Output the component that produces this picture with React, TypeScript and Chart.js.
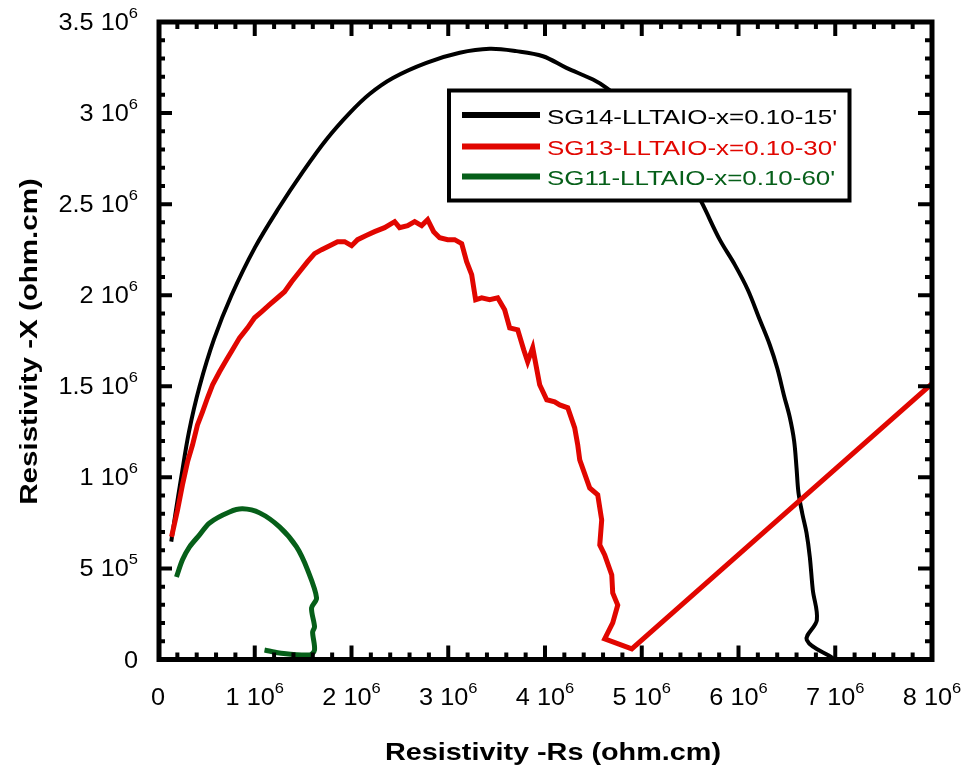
import React, { useEffect, useRef } from 'react';
import { Chart, registerables } from 'chart.js';

Chart.register(...registerables);

// All values in units of 10^6 ohm.cm
const blackX = [0.137, 0.18, 0.24, 0.32, 0.43, 0.58, 0.76, 1.0, 1.25, 1.5, 1.739, 1.98, 2.187, 2.428, 2.774, 3.118, 3.428, 3.704, 3.979, 4.221, 4.496, 4.635, 4.979, 5.289, 5.496, 5.631, 5.806, 5.961, 6.096, 6.220, 6.323, 6.40, 6.47, 6.53, 6.575, 6.60, 6.62, 6.66, 6.703, 6.737, 6.768, 6.810, 6.706, 6.975];
const blackY = [0.647, 0.80, 1.0, 1.25, 1.5, 1.76, 2.0, 2.26, 2.48, 2.68, 2.854, 3.0, 3.105, 3.193, 3.276, 3.331, 3.353, 3.340, 3.312, 3.248, 3.184, 3.138, 2.992, 2.800, 2.635, 2.497, 2.305, 2.168, 2.030, 1.865, 1.728, 1.60, 1.45, 1.33, 1.20, 1.05, 0.915, 0.80, 0.695, 0.563, 0.382, 0.217, 0.107, 0.008];

const redX = [0.140, 0.202, 0.253, 0.305, 0.357, 0.408, 0.460, 0.512, 0.564, 0.636, 0.708, 0.770, 0.843, 0.926, 0.998, 1.070, 1.153, 1.236, 1.308, 1.381, 1.463, 1.546, 1.618, 1.691, 1.774, 1.856, 1.929, 2.001, 2.063, 2.146, 2.239, 2.342, 2.446, 2.497, 2.580, 2.653, 2.725, 2.787, 2.849, 2.911, 2.994, 3.066, 3.139, 3.190, 3.242, 3.283, 3.345, 3.428, 3.511, 3.583, 3.635, 3.718, 3.780, 3.821, 3.873, 3.945, 4.018, 4.100, 4.152, 4.235, 4.307, 4.338, 4.359, 4.462, 4.545, 4.586, 4.566, 4.617, 4.690, 4.700, 4.752, 4.700, 4.617, 4.897, 8.000];
const redY = [0.673, 0.821, 0.959, 1.085, 1.179, 1.288, 1.360, 1.437, 1.508, 1.580, 1.646, 1.701, 1.766, 1.821, 1.876, 1.909, 1.948, 1.986, 2.019, 2.074, 2.129, 2.184, 2.228, 2.250, 2.272, 2.294, 2.294, 2.272, 2.305, 2.327, 2.349, 2.371, 2.404, 2.371, 2.382, 2.404, 2.382, 2.415, 2.349, 2.316, 2.305, 2.305, 2.283, 2.184, 2.113, 1.975, 1.986, 1.975, 1.986, 1.920, 1.821, 1.810, 1.701, 1.635, 1.712, 1.508, 1.426, 1.415, 1.398, 1.382, 1.272, 1.179, 1.096, 0.942, 0.904, 0.766, 0.629, 0.574, 0.464, 0.365, 0.299, 0.201, 0.113, 0.058, 1.514];

const greenX = [0.191, 0.253, 0.326, 0.429, 0.533, 0.739, 0.874, 1.050, 1.256, 1.432, 1.546, 1.639, 1.587, 1.618, 1.598, 1.618, 1.567, 1.256, 1.101];
const greenY = [0.453, 0.547, 0.618, 0.684, 0.750, 0.810, 0.827, 0.805, 0.728, 0.618, 0.492, 0.338, 0.283, 0.179, 0.151, 0.052, 0.025, 0.036, 0.052];

const seriesLabels = ["SG14-LLTAIO-x=0.10-15'", "SG13-LLTAIO-x=0.10-30'", "SG11-LLTAIO-x=0.10-60'"];
const seriesColors = ['#000000', '#e10600', '#065f19'];

const xTickValues = [0, 1, 2, 3, 4, 5, 6, 7, 8];
const xTickLabels = ['0', '1 10^6', '2 10^6', '3 10^6', '4 10^6', '5 10^6', '6 10^6', '7 10^6', '8 10^6'];
const yTickValues = [0, 0.5, 1, 1.5, 2, 2.5, 3, 3.5];
const yTickLabels = ['0', '5 10^5', '1 10^6', '1.5 10^6', '2 10^6', '2.5 10^6', '3 10^6', '3.5 10^6'];

const xTitle = 'Resistivity -Rs (ohm.cm)';
const yTitle = 'Resistivity -X (ohm.cm)';

const FONT = '"Liberation Sans", Arial, Helvetica, sans-serif';
const SX = 1.1;

function toPoints(xs: number[], ys: number[]) {
  return xs.map((x, i) => ({ x: x * 1e6, y: ys[i] * 1e6 }));
}

function textWidth(ctx: CanvasRenderingContext2D, text: string, font: string, sx: number) {
  ctx.save();
  ctx.font = font;
  const w = ctx.measureText(text).width * sx;
  ctx.restore();
  return w;
}

function drawText(ctx: CanvasRenderingContext2D, text: string, x: number, y: number, font: string, sx: number, color = '#000') {
  ctx.save();
  ctx.font = font;
  ctx.fillStyle = color;
  ctx.textAlign = 'left';
  ctx.textBaseline = 'alphabetic';
  ctx.translate(x, y);
  ctx.scale(sx, 1);
  ctx.fillText(text, 0, 0);
  ctx.restore();
}

function drawExpLabel(ctx: CanvasRenderingContext2D, label: string, x: number, y: number, align: 'center' | 'right') {
  const [main, exp] = label.split('^');
  const mainFont = `23px ${FONT}`;
  const expFont = `15px ${FONT}`;
  const wm = textWidth(ctx, main, mainFont, SX);
  const we = exp ? textWidth(ctx, exp, expFont, SX) : 0;
  const total = wm + we;
  const x0 = align === 'center' ? x - total / 2 : x - total;
  drawText(ctx, main, x0, y, mainFont, SX);
  if (exp) drawText(ctx, exp, x0 + wm, y - 12, expFont, SX);
}

const framePlugin = {
  id: 'framePlugin',
  afterDraw(chart: any) {
    const ctx: CanvasRenderingContext2D = chart.ctx;
    const { left, right, top, bottom } = chart.chartArea;
    const xs = chart.scales.x;
    const ys = chart.scales.y;
    ctx.save();
    // frame
    ctx.strokeStyle = '#000';
    ctx.lineWidth = 5;
    ctx.strokeRect(left + 1, top, right - left - 1, bottom - top);
    // ticks
    ctx.lineWidth = 4;
    ctx.lineCap = 'butt';
    ctx.beginPath();
    for (let i = 1; i < 40; i++) {
      const px = xs.getPixelForValue(i * 0.2e6);
      const len = i % 5 === 0 ? 14 : 7;
      ctx.moveTo(px, bottom); ctx.lineTo(px, bottom - len);
      ctx.moveTo(px, top); ctx.lineTo(px, top + len);
    }
    for (let i = 1; i < 35; i++) {
      const py = ys.getPixelForValue(i * 0.1e6);
      const len = i % 5 === 0 ? 14 : 7;
      ctx.moveTo(left, py); ctx.lineTo(left + len, py);
      ctx.moveTo(right, py); ctx.lineTo(right - len, py);
    }
    ctx.stroke();
    // tick labels
    xTickValues.forEach((v, i) => {
      drawExpLabel(ctx, xTickLabels[i], xs.getPixelForValue(v * 1e6), 705, 'center');
    });
    yTickValues.forEach((v, i) => {
      drawExpLabel(ctx, yTickLabels[i], 138, ys.getPixelForValue(v * 1e6) + 8, 'right');
    });
    // axis titles
    const titleFont = `bold 24px ${FONT}`;
    const wx = textWidth(ctx, xTitle, titleFont, 1.2);
    drawText(ctx, xTitle, 553 - wx / 2, 760, titleFont, 1.2);
    ctx.save();
    ctx.translate(37, 341.5);
    ctx.rotate(-Math.PI / 2);
    const wy = textWidth(ctx, yTitle, titleFont, 1.23);
    drawText(ctx, yTitle, -wy / 2, 0, titleFont, 1.23);
    ctx.restore();
    // legend
    ctx.fillStyle = '#fff';
    ctx.fillRect(449, 90.5, 400.5, 110);
    ctx.strokeStyle = '#000';
    ctx.lineWidth = 4;
    ctx.strokeRect(449, 90.5, 400.5, 110);
    const rows = [115, 146.5, 176.5];
    seriesLabels.forEach((lab, i) => {
      ctx.strokeStyle = seriesColors[i];
      ctx.lineWidth = 6;
      ctx.beginPath();
      ctx.moveTo(462, rows[i]);
      ctx.lineTo(540, rows[i]);
      ctx.stroke();
      drawText(ctx, lab, 547, rows[i] + 8.5, `21px ${FONT}`, 1.235, seriesColors[i]);
    });
    ctx.restore();
  },
};

export default function App() {
  const ref = useRef<HTMLCanvasElement>(null);
  useEffect(() => {
    if (!ref.current) return;
    const chart = new Chart(ref.current, {
      type: 'scatter',
      data: {
        datasets: [
          { label: seriesLabels[0], data: toPoints(blackX, blackY), borderColor: seriesColors[0], backgroundColor: seriesColors[0], borderWidth: 4, showLine: true, pointRadius: 0, tension: 0.35, order: 2 },
          { label: seriesLabels[1], data: toPoints(redX, redY), borderColor: seriesColors[1], backgroundColor: seriesColors[1], borderWidth: 5, showLine: true, pointRadius: 0, tension: 0, order: 0 },
          { label: seriesLabels[2], data: toPoints(greenX, greenY), borderColor: seriesColors[2], backgroundColor: seriesColors[2], borderWidth: 5, showLine: true, pointRadius: 0, tension: 0.3, order: 1 },
        ],
      } as any,
      options: {
        animation: false,
        responsive: false,
        devicePixelRatio: 1,
        events: [],
        layout: { padding: { left: 158, right: 39, top: 22, bottom: 111.5 } },
        scales: {
          x: { type: 'linear', min: 0, max: 8e6, display: false },
          y: { type: 'linear', min: 0, max: 3.5e6, display: false },
        },
        plugins: { legend: { display: false }, tooltip: { enabled: false } },
      } as any,
      plugins: [framePlugin],
    });
    return () => chart.destroy();
  }, []);
  return (
    <div style={{ position: 'absolute', left: 0, top: 0, width: 971, height: 771, background: '#fff' }}>
      <canvas ref={ref} width={971} height={771} style={{ display: 'block' }} />
    </div>
  );
}
